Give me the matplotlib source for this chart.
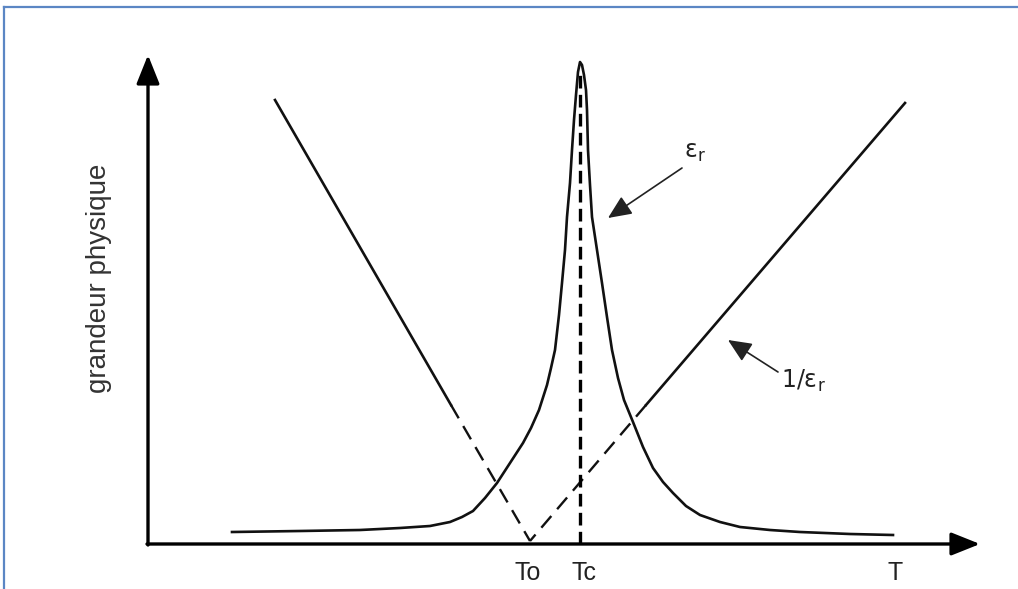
import matplotlib
matplotlib.use("Agg")
import matplotlib.pyplot as plt
from matplotlib.lines import Line2D

# Characteristic temperatures (arbitrary units along T)
T0 = 382
TC = 432
T_END = 747

# Dielectric permittivity eps_r around the Curie temperature
eps_T = [84, 152, 212, 252, 282, 302, 314, 325, 337, 349, 362, 375, 383, 391,
         399, 403, 407, 411, 414, 417, 419, 422, 424, 426, 428, 430, 432,
         434, 436, 438, 439, 440, 442, 444, 449, 454, 459, 464, 470, 476, 485,
         495, 505, 515, 525, 538, 552, 572, 592, 622, 652, 702, 745]
eps_val = [12, 13, 14, 16, 18, 22, 27, 33, 46, 61, 81, 101, 116, 134,
           159, 176, 194, 229, 261, 294, 327, 361, 394, 424, 449, 472, 482,
           479, 469, 454, 434, 394, 359, 327, 294, 261, 227, 194, 166, 144, 122,
           97, 76, 62, 51, 38, 29, 22, 17, 14, 12, 10, 9]

# Inverse permittivity 1/eps_r (Curie-Weiss branches), extrapolated to T0
inv_low_T = [127, 303, 382]
inv_low_val = [444, 139, 3]
inv_high_T = [757, 498, 382]
inv_high_val = [441, 139, 3]

# Top of the dashed marker at Tc
tc_top = 470

W, H = 1018, 589
fig = plt.figure(figsize=(W / 100, H / 100), dpi=100)
fig.patch.set_facecolor("white")

# Thin blue frame around the figure
frame_color = "#5b86c4"
fig.add_artist(Line2D([4 / W, 1.0], [1 - 7 / H, 1 - 7 / H], color=frame_color,
                      lw=1.6, transform=fig.transFigure))
fig.add_artist(Line2D([4 / W, 4 / W], [0, 1 - 7 / H], color=frame_color,
                      lw=1.6, transform=fig.transFigure))

ax = fig.add_axes([148 / W, 45 / H, (W - 148) / W, 544 / H])
ax.set_xlim(0, W - 148)
ax.set_ylim(0, 544)
ax.axis("off")

ink = "#111111"

# Coordinate axes with arrow heads
axis_arrow = dict(arrowstyle="-|>,head_length=0.8,head_width=0.32",
                  mutation_scale=22, lw=2.4, color="black",
                  shrinkA=0, shrinkB=0)
ax.annotate("", xy=(832, 0), xytext=(-1, 0), arrowprops=axis_arrow,
            annotation_clip=False)
ax.annotate("", xy=(0, 489), xytext=(0, -1), arrowprops=axis_arrow,
            annotation_clip=False)

# eps_r peak
ax.plot(eps_T, eps_val, color=ink, lw=1.9, solid_joinstyle="round",
        clip_on=False)

# 1/eps_r: measured (solid) and extrapolated (dashed) parts
ax.plot(inv_low_T[:2], inv_low_val[:2], color=ink, lw=1.9, clip_on=False)
ax.plot(inv_low_T[1:], inv_low_val[1:], color=ink, lw=1.7,
        dashes=(6.5, 3.8), clip_on=False)
ax.plot(inv_high_T[:2], inv_high_val[:2], color=ink, lw=1.9, clip_on=False)
ax.plot(inv_high_T[1:], inv_high_val[1:], color=ink, lw=1.7,
        dashes=(6.5, 3.8), clip_on=False)

# Dashed marker at Tc
ax.plot([TC, TC], [0, tc_top], color="black", lw=2.4, dashes=(3.8, 1.9),
        clip_on=False)

# Temperature labels
lab_kw = dict(ha="center", va="center", fontsize=18, color="#222222",
              family="Liberation Sans")
ax.text(T0 - 2, -29, "To", **lab_kw)
ax.text(TC + 4, -29, "Tc", **lab_kw)
ax.text(T_END, -29, "T", **lab_kw)

# Vertical axis title
ax.text(-49, 266, "grandeur physique", rotation=90, ha="center", va="center",
        fontsize=20, color="#333333", family="Liberation Sans")

# Curve annotations
small_arrow = dict(arrowstyle="-|>,head_length=0.9,head_width=0.4",
                   mutation_scale=16, lw=1.2, color="#222222",
                   shrinkA=0, shrinkB=0)
ax.annotate("", xy=(460, 326), xytext=(534, 376), arrowprops=small_arrow)
ax.text(547, 392, r"$\mathregular{ε_r}$", ha="center", va="center",
        fontsize=17, color="#222222", family="DejaVu Sans")
ax.annotate("", xy=(580, 204), xytext=(630, 172), arrowprops=small_arrow)
ax.text(655, 163, r"$\mathregular{1/ε_r}$", ha="center", va="center",
        fontsize=17, color="#222222", family="DejaVu Sans")

fig.savefig("out.png", dpi=100, facecolor="white")
